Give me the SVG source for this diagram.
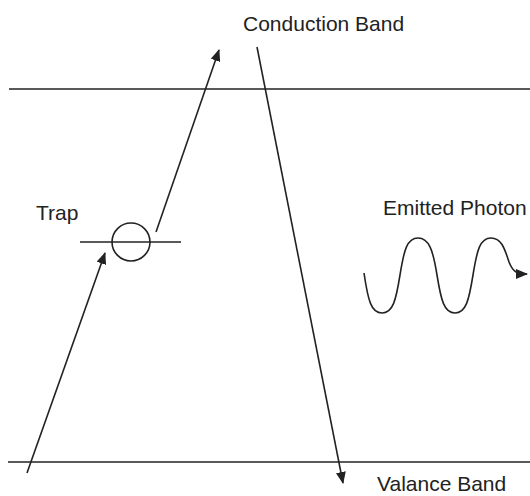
<svg xmlns="http://www.w3.org/2000/svg" width="530" height="496" viewBox="0 0 530 496">
<style>
.ln{stroke:#222;stroke-width:1.6;fill:none}
.lbl{font-family:"Liberation Sans",Arial,sans-serif;font-size:21px;fill:#222}
</style>
<defs>
<marker id="ah" viewBox="0 0 12 10" refX="11" refY="5" markerWidth="12" markerHeight="10" markerUnits="userSpaceOnUse" orient="auto">
<path d="M0,0 L12,5 L0,10 Z" fill="#222"/>
</marker>
</defs>
<rect width="530" height="496" fill="#fff"/>
<g id="conduction-band">
<line class="ln" x1="9" y1="89" x2="530" y2="89"/>
<text class="lbl" x="243" y="31">Conduction Band</text>
</g>
<g id="valance-band">
<line class="ln" x1="8" y1="462" x2="530" y2="462"/>
<text class="lbl" x="377" y="491">Valance Band</text>
</g>
<g id="trap">
<line class="ln" x1="80" y1="242" x2="181" y2="242"/>
<circle class="ln" cx="131" cy="242" r="19"/>
<text class="lbl" x="36" y="220">Trap</text>
</g>
<g id="photon">
<path class="ln" d="M364,273 C368,300 371,313 382,313 C393,313 396,300 400,275 C404,250 407,238 418,238 C429,238 433,250 437,275 C441,300 444,313 455,313 C466,313 469,300 473,275 C477,250 480,238 491,238 C502,238 505,250 509,262 C513,272 517,274 527,274" marker-end="url(#ah)"/>
<text class="lbl" x="383" y="215">Emitted Photon</text>
</g>
<g id="connectors">
<line class="ln" x1="27" y1="473" x2="105" y2="253" marker-end="url(#ah)"/>
<line class="ln" x1="156" y1="232" x2="219" y2="50" marker-end="url(#ah)"/>
<line class="ln" x1="257" y1="47" x2="343" y2="483" marker-end="url(#ah)"/>
</g>
</svg>
